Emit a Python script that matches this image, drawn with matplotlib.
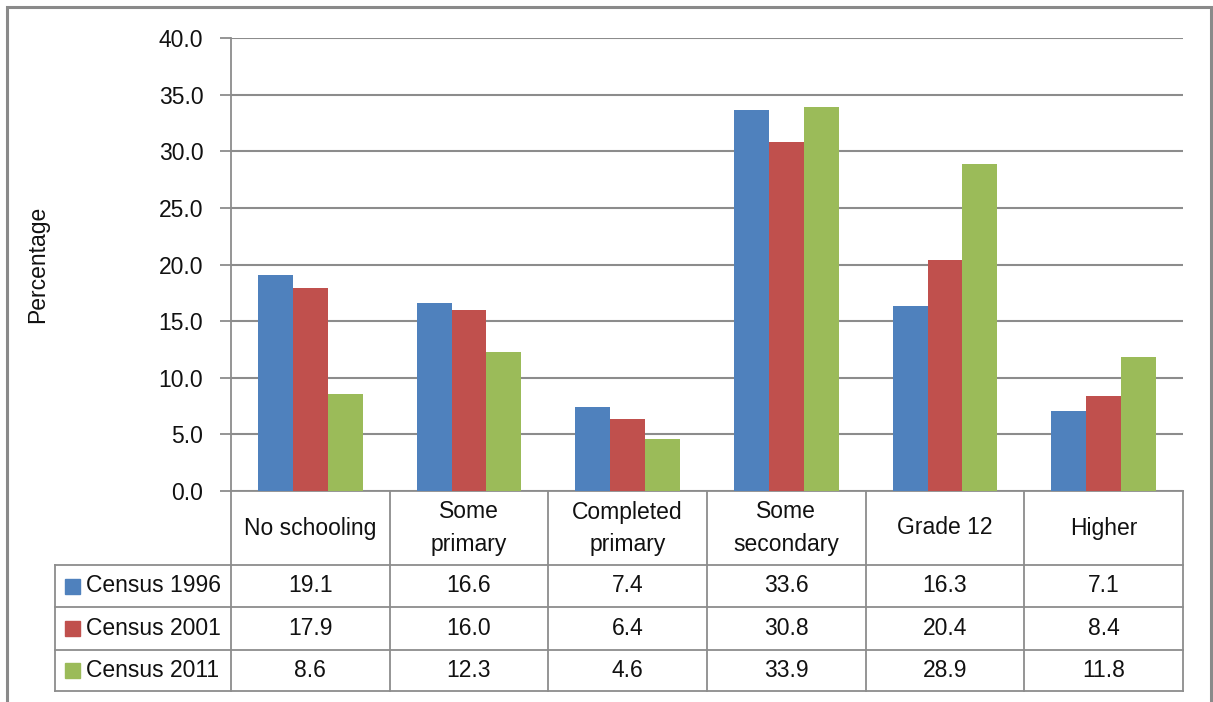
import matplotlib
matplotlib.use("Agg")
import matplotlib.pyplot as plt
from matplotlib.patches import Rectangle
from matplotlib.lines import Line2D

plt.rcParams['font.family'] = ['Liberation Sans', 'DejaVu Sans']

categories = ["No schooling", "Some\nprimary", "Completed\nprimary",
              "Some\nsecondary", "Grade 12", "Higher"]
series_names = ["Census 1996", "Census 2001", "Census 2011"]
census_1996 = [19.1, 16.6, 7.4, 33.6, 16.3, 7.1]
census_2001 = [17.9, 16.0, 6.4, 30.8, 20.4, 8.4]
census_2011 = [8.6, 12.3, 4.6, 33.9, 28.9, 11.8]
colors = ["#4F81BD", "#C0504D", "#9BBB59"]
yticks = [0, 5, 10, 15, 20, 25, 30, 35, 40]

W, H = 1213, 702
fig = plt.figure(figsize=(W / 100, H / 100), dpi=100)

# plot area in pixel coordinates
px_left, px_right, px_top, px_bottom = 231, 1183, 38, 491
ax = fig.add_axes([px_left / W, 1 - px_bottom / H,
                   (px_right - px_left) / W, (px_bottom - px_top) / H])

grid_c = "#8c8c8c"
fs = 16.5
txt_c = "#111111"

series = [census_1996, census_2001, census_2011]
bw = 0.22
n = len(categories)
for i, vals in enumerate(series):
    xs = [k + (i - 1) * bw for k in range(n)]
    ax.bar(xs, vals, width=bw, color=colors[i], zorder=3)

ax.set_xlim(-0.5, n - 0.5)
ax.set_ylim(0, 40)
ax.set_yticks(yticks)
ax.set_yticklabels([f"{v:.1f}" for v in yticks], fontsize=fs, color=txt_c)
ax.set_xticks([])
ax.yaxis.grid(True, color=grid_c, lw=1.5, zorder=0)
ax.tick_params(axis='y', length=8, width=1.3, color=grid_c, pad=12)
for s in ["top", "right", "bottom"]:
    ax.spines[s].set_visible(False)
ax.spines["left"].set_color(grid_c)
ax.spines["left"].set_linewidth(1.3)
ax.set_ylabel("Percentage", fontsize=fs, color=txt_c, labelpad=79)


def ay(py):
    # pixel row -> axes fraction
    return (px_bottom - py) / (px_bottom - px_top)


def axx(px):
    return (px - px_left) / (px_right - px_left)


tr = ax.transAxes
rows = [491, 565, 607, 650, 691]
tbl_left = 55
line_kw = dict(color=grid_c, lw=1.3, transform=tr, clip_on=False)

# horizontal table rules
ax.add_line(Line2D([0, 1], [ay(rows[0])] * 2, **line_kw))
for py in rows[1:]:
    ax.add_line(Line2D([axx(tbl_left), 1], [ay(py)] * 2, **line_kw))
# vertical table rules
for k in range(n + 1):
    x = k / n
    ax.add_line(Line2D([x, x], [ay(rows[0]), ay(rows[-1])], **line_kw))
ax.add_line(Line2D([axx(tbl_left)] * 2, [ay(rows[1]), ay(rows[-1])], **line_kw))

# header labels
for k, cat in enumerate(categories):
    ax.text((k + 0.5) / n, ay((rows[0] + rows[1]) / 2), cat, transform=tr,
            ha='center', va='center', fontsize=fs, color=txt_c,
            linespacing=1.5)

# data rows with legend keys
for i, vals in enumerate(series):
    yc = ay((rows[i + 1] + rows[i + 2]) / 2)
    kh = 15 / (px_bottom - px_top)
    ax.add_patch(Rectangle((axx(65), yc - kh / 2), 15 / (px_right - px_left), kh,
                           transform=tr, color=colors[i], clip_on=False))
    ax.text(axx(86), yc, series_names[i], transform=tr, ha='left', va='center',
            fontsize=fs, color=txt_c)
    for k, v in enumerate(vals):
        ax.text((k + 0.5) / n, yc, f"{v:.1f}", transform=tr, ha='center',
                va='center', fontsize=fs, color=txt_c)

# outer chart border
fig.patches.append(Rectangle((7 / W, -0.01), (1211 - 7) / W, 1 - 7 / H + 0.01,
                             transform=fig.transFigure, fill=False,
                             edgecolor="#8a8a8a", lw=2.2))

fig.savefig("out.png", dpi=100)
